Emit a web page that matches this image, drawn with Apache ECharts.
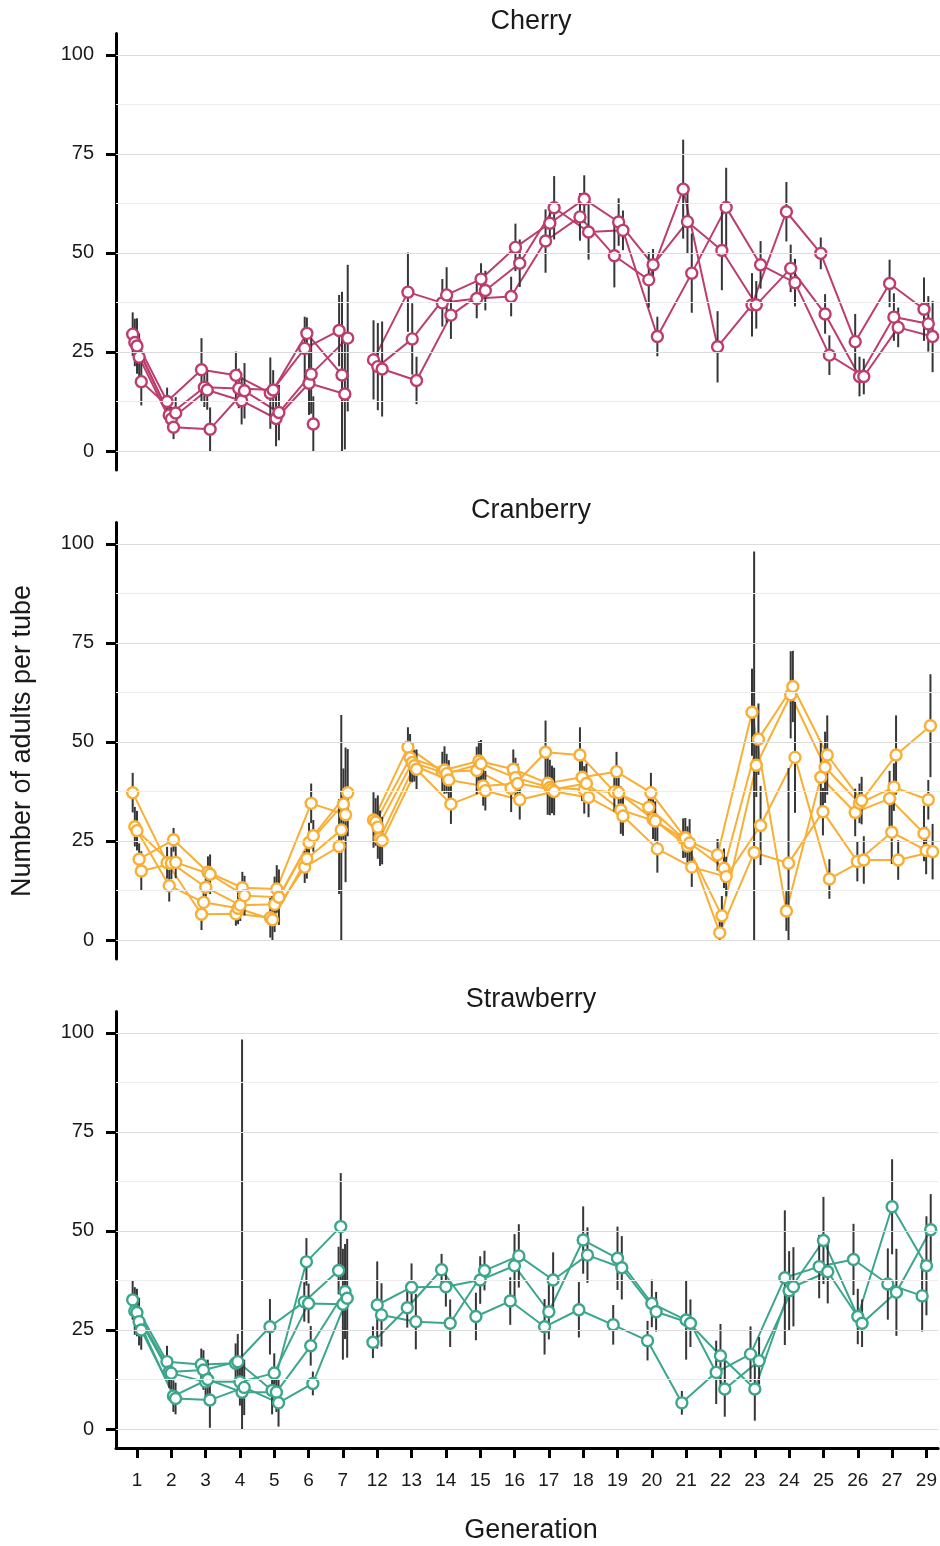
<!DOCTYPE html>
<html>
<head>
<meta charset="utf-8">
<script src="https://cdn.jsdelivr.net/npm/echarts@6/dist/echarts.min.js"></script>
<style>
  html, body { margin: 0; padding: 0; background: #ffffff; }
  #chart { width: 940px; height: 1546px; }
</style>
</head>
<body>
<div id="chart"></div>
<script>
// Generations sampled (x categories)
const generations = ['1','2','3','4','5','6','7','12','13','14','15','16','17','18','19','20','21','22','23','24','25','26','27','29'];
const yTicks = [0, 25, 50, 75, 100];
const yGrid = [0, 12.5, 25, 37.5, 50, 62.5, 75, 87.5, 100];
const fruits = ['Cherry', 'Cranberry', 'Strawberry'];
// first generation of the second sampling phase (lines are not joined across it)
const phaseStart = '12';

// Mean adults per tube, one row per replicate line (null = not sampled)
const cherryMeans = [
  [29.5, 12.5, 20.5, 19.1, 14.6, 25.9, 30.4, 23.0, 40.1, 37.4, 38.5, 39.0, 53.0, 59.1, 49.3, 43.2, 66.1, 26.3, 36.9, 60.4, 49.9, 27.6, 42.3, 35.8],
  [27.4, 9.1, 16.1, 15.8, 15.4, 29.7, 19.2, 21.3, 28.3, 39.4, 43.4, 51.4, 57.5, 63.6, 57.8, 47.0, 57.9, 50.6, 36.9, 46.1, 34.6, 18.8, 33.8, 32.1],
  [26.5, 8.1, 15.4, 12.7, 8.2, 17.1, 14.4, 20.7, 17.8, 34.3, 40.5, 47.4, 61.4, 55.3, 55.7, 28.9, 44.9, 61.5, 47.0, 42.5, 24.2, 18.8, 31.2, 28.9],
  [23.7, 6.0, 5.5, 15.2, 9.7, 19.4, 28.5, null, null, null, null, null, null, null, null, null, null, null, null, null, null, null, null, null],
  [17.5, 9.6, null, null, null, 6.8, null, null, null, null, null, null, null, null, null, null, null, null, null, null, null, null, null, null]
];
const cherryErr = [
  [5.5, 3.5, 8, 6, 9, 8, 9, 10, 10, 6, 5, 5, 8, 6, 8, 7, 12.5, 9, 8, 7.5, 4, 7, 6, 8],
  [6, 3.5, 5, 5, 5, 4, 21, 11, 9, 7, 4, 6, 5, 6, 6, 4, 8, 10, 6, 6, 5, 5, 6, 7],
  [7, 3, 5, 6, 7, 8, 14, 12, 6, 6, 5, 6, 8, 7, 5, 5, 10, 10, 6, 6, 5, 4.5, 5, 9],
  [6, 3, 5.5, 7, 7, 10, 18.5, null, null, null, null, null, null, null, null, null, null, null, null, null, null, null, null, null],
  [6, 4, null, null, null, 7, null, null, null, null, null, null, null, null, null, null, null, null, null, null, null, null, null, null]
];

const cranberryMeans = [
  [37.2, 19.5, 6.5, 6.6, 5.6, 18.4, 23.6, 30.3, 48.7, 42.5, 42.8, 38.3, 47.4, 46.7, 37.4, 33.5, 25.7, 21.5, 57.5, 7.3, 41.1, 32.2, 35.7, 26.9],
  [28.6, 13.7, 9.5, 8.0, 5.1, 20.5, 27.8, 29.8, 46.0, 42.9, 45.2, 43.1, 39.6, 41.1, 42.5, 37.2, 25.8, 1.8, 22.1, 19.4, 32.4, 19.8, 27.2, 22.6],
  [27.6, 19.4, 13.3, 8.8, 9.0, 24.6, 34.3, 28.5, 44.8, 42.0, 44.5, 41.0, 38.5, 37.9, 37.2, 30.5, 23.7, 6.1, 44.1, 61.9, 43.6, 34.5, 38.6, 35.4],
  [20.4, 25.3, 17.1, 13.2, 12.9, 34.5, 31.6, 25.7, 44.0, 40.4, 38.9, 39.5, 38.0, 39.5, 32.8, 30.0, 24.5, 18.1, 50.7, 64.0, 46.7, 35.2, 46.7, 54.1],
  [17.4, 19.6, 16.6, 11.2, 10.8, 26.3, 37.2, 25.1, 43.1, 34.3, 37.7, 35.4, 37.5, 36.0, 31.3, 23.0, 18.4, 16.0, 28.9, 46.1, 15.4, 20.2, 20.2, 22.3]
];
const cranberryErr = [
  [5, 4, 4, 3, 5, 4, 12, 7, 5, 5, 6, 6, 8, 7, 5, 4, 5, 4, 11, 5, 9, 6, 7, 7],
  [5, 4, 3, 4, 6, 5, 29, 6, 6, 6, 5, 5, 8, 6, 5, 5, 5, 3, 76, 24, 6, 5, 8, 6],
  [5, 4, 5, 4, 7, 5, 9, 8, 5, 5, 6, 5, 7, 6, 6, 5, 5, 5, 8, 11, 9, 5, 6, 5],
  [4, 3, 4, 4, 6, 5, 17, 7, 4, 5, 5, 5, 6, 5, 6, 5, 6, 5, 9, 9, 10, 6, 10, 13],
  [5, 4, 5, 5, 7, 4, 11, 6, 5, 5, 5, 5, 6, 5, 5, 6, 5, 5, 10, 14, 5, 6, 5, 7]
];

const strawberryMeans = [
  [32.6, 17.0, 16.3, 16.6, 25.8, 32.1, 40.0, 21.9, 30.6, 40.2, 28.4, 32.3, 25.8, 30.1, 26.3, 22.3, 6.6, 14.3, 18.9, 38.2, 41.0, 42.8, 36.6, 33.6],
  [29.8, 14.4, 14.9, 17.0, 9.7, 42.2, 51.1, 31.3, 35.8, 35.9, 37.6, 41.2, 29.6, 47.7, 43.1, 31.7, 27.5, 18.5, 10.1, 34.9, 47.6, 28.4, 56.1, 41.2],
  [29.4, 14.1, 11.9, 11.9, 14.1, 31.7, 31.5, 28.8, 27.1, 26.7, 40.0, 43.7, 37.6, 43.9, 40.7, 29.6, 26.7, 10.1, 17.2, 35.9, 39.7, 26.7, 34.5, 50.3],
  [27.1, 8.3, 12.5, 9.3, 9.3, 21.0, 34.7, null, null, null, null, null, null, null, null, null, null, null, null, null, null, null, null, null],
  [25.0, 7.7, 7.3, 10.5, 6.6, 11.5, 33.0, null, null, null, null, null, null, null, null, null, null, null, null, null, null, null, null, null]
];
const strawberryErr = [
  [5, 4, 4, 5, 7, 5, 6, 4, 5, 4, 6, 6, 7, 7, 5, 5, 3, 8, 7, 17, 8, 9, 9, 9],
  [6, 4, 5, 7, 6, 6, 13.5, 11, 6, 5, 6, 8, 7, 8.5, 8, 6, 10, 8, 8, 10, 11, 7, 12, 12.5],
  [6, 4, 5, 6, 5, 5, 14, 8, 7, 6, 5, 8, 7, 7, 8, 5, 6, 7, 6, 10, 8, 6, 11, 9],
  [6, 4, 5, 89, 5, 5, 12, null, null, null, null, null, null, null, null, null, null, null, null, null, null, null, null, null],
  [5, 4, 7, 7, 6, 3, 15, null, null, null, null, null, null, null, null, null, null, null, null, null, null, null, null, null]
];

const panelMeans = [cherryMeans, cranberryMeans, strawberryMeans];
const panelErr = [cherryErr, cranberryErr, strawberryErr];
const panelColors = ['#BD3D6E', '#F9AE34', '#3CA68D'];

// Layout
const FONT = "'Liberation Sans', Arial, Helvetica, sans-serif";
const GRID_LEFT = 116, GRID_WIDTH = 824, GRID_TOP0 = 33.5, GRID_STEP = 489, GRID_HEIGHT = 436.5;
const X_MIN = -0.61, X_MAX = 23.34, Y_MIN = -4.8, Y_MAX = 105.4;
const DODGE_WIDTH = 0.25;
const phaseIndex = generations.indexOf(phaseStart);

// horizontal dodge of replicates within a generation
function dodge(means) {
  const out = means.map(() => []);
  for (let c = 0; c < generations.length; c++) {
    const present = [];
    means.forEach((row, r) => { if (row[c] != null) present.push(r); });
    const m = present.length;
    present.forEach((r, k) => { out[r][c] = m > 1 ? (k - (m - 1) / 2) * DODGE_WIDTH / (m - 1) : 0; });
  }
  return out;
}

const grid = [], xAxis = [], yAxis = [], series = [];

fruits.forEach((name, p) => {
  const isBottom = p === fruits.length - 1;
  const color = panelColors[p];
  grid.push({ left: GRID_LEFT, width: GRID_WIDTH, top: GRID_TOP0 + p * GRID_STEP, height: GRID_HEIGHT, containLabel: false });
  xAxis.push({
    type: 'value', gridIndex: p, min: X_MIN, max: X_MAX,
    show: true,
    axisLine: { show: isBottom, onZero: false, lineStyle: { color: '#000', width: 3 } },
    axisTick: { show: isBottom, length: 10, lineStyle: { color: '#000', width: 3 }, customValues: generations.map((g, i) => i) },
    axisLabel: {
      show: isBottom, margin: 23, fontSize: 19, color: '#1a1a1a', fontFamily: FONT,
      customValues: generations.map((g, i) => i),
      formatter: v => generations[Math.round(v)]
    },
    splitLine: { show: false }
  });
  yAxis.push({
    type: 'value', gridIndex: p, min: Y_MIN, max: Y_MAX,
    axisLine: { show: true, onZero: false, lineStyle: { color: '#000', width: 3 } },
    axisTick: { show: true, length: 10, lineStyle: { color: '#000', width: 3 }, customValues: yTicks },
    axisLabel: { show: true, margin: 22, fontSize: 20, color: '#1a1a1a', fontFamily: FONT, customValues: yTicks },
    splitLine: { show: false }
  });

  // background grid lines
  series.push({
    type: 'line', xAxisIndex: p, yAxisIndex: p, data: [], z: 0, silent: true,
    markLine: {
      silent: true, symbol: ['none', 'none'], label: { show: false }, animation: false,
      data: yGrid.map(v => ({
        yAxis: v,
        lineStyle: { color: yTicks.includes(v) ? '#dcdcdc' : '#ececec', width: 1.2, type: 'solid' }
      }))
    }
  });

  const means = panelMeans[p], errs = panelErr[p];
  const offs = dodge(means);
  const pts = [], bars = [];

  means.forEach((row, r) => {
    const lineData = [];
    row.forEach((v, c) => {
      if (c === phaseIndex) lineData.push([c - 0.5, '-']);
      if (v == null) { lineData.push([c, '-']); return; }
      const x = c + offs[r][c];
      lineData.push([x, v]);
      pts.push([x, v]);
      const e = errs[r][c];
      bars.push([x, Math.max(0, v - e), v + e]);
    });
    series.push({
      type: 'line', xAxisIndex: p, yAxisIndex: p, data: lineData,
      showSymbol: false, connectNulls: false, z: 2, silent: true, animation: false,
      lineStyle: { color: color, width: 2 }
    });
  });

  series.push({
    type: 'custom', xAxisIndex: p, yAxisIndex: p, data: bars, z: 3, silent: true, animation: false,
    encode: { x: 0, y: [1, 2] },
    renderItem: (params, api) => {
      const a = api.coord([api.value(0), api.value(1)]);
      const b = api.coord([api.value(0), api.value(2)]);
      return { type: 'line', shape: { x1: a[0], y1: a[1], x2: b[0], y2: b[1] }, style: { stroke: '#363636', lineWidth: 2 } };
    }
  });

  series.push({
    type: 'scatter', xAxisIndex: p, yAxisIndex: p, data: pts, z: 4, silent: true, animation: false,
    symbol: 'circle', symbolSize: 11,
    itemStyle: { color: '#ffffff', borderColor: color, borderWidth: 2.4, opacity: 1 }
  });
});

const textStyle = size => ({ fontSize: size, fontFamily: FONT, fill: '#1a1a1a', textAlign: 'center', textVerticalAlign: 'middle' });
const graphic = [];
const titleY = [22, 511, 1000];
fruits.forEach((name, p) => {
  graphic.push({ type: 'text', x: 531, y: titleY[p], style: Object.assign({ text: name }, textStyle(27)) });
});
graphic.push({ type: 'text', x: 531, y: 1531, style: Object.assign({ text: 'Generation' }, textStyle(27)) });
graphic.push({ type: 'text', x: 23, y: 741, rotation: Math.PI / 2, style: Object.assign({ text: 'Number of adults per tube' }, textStyle(27)) });

const chart = echarts.init(document.getElementById('chart'), null, { renderer: 'canvas' });
chart.setOption({
  backgroundColor: '#ffffff',
  animation: false,
  grid, xAxis, yAxis, series, graphic
});
</script>
</body>
</html>
